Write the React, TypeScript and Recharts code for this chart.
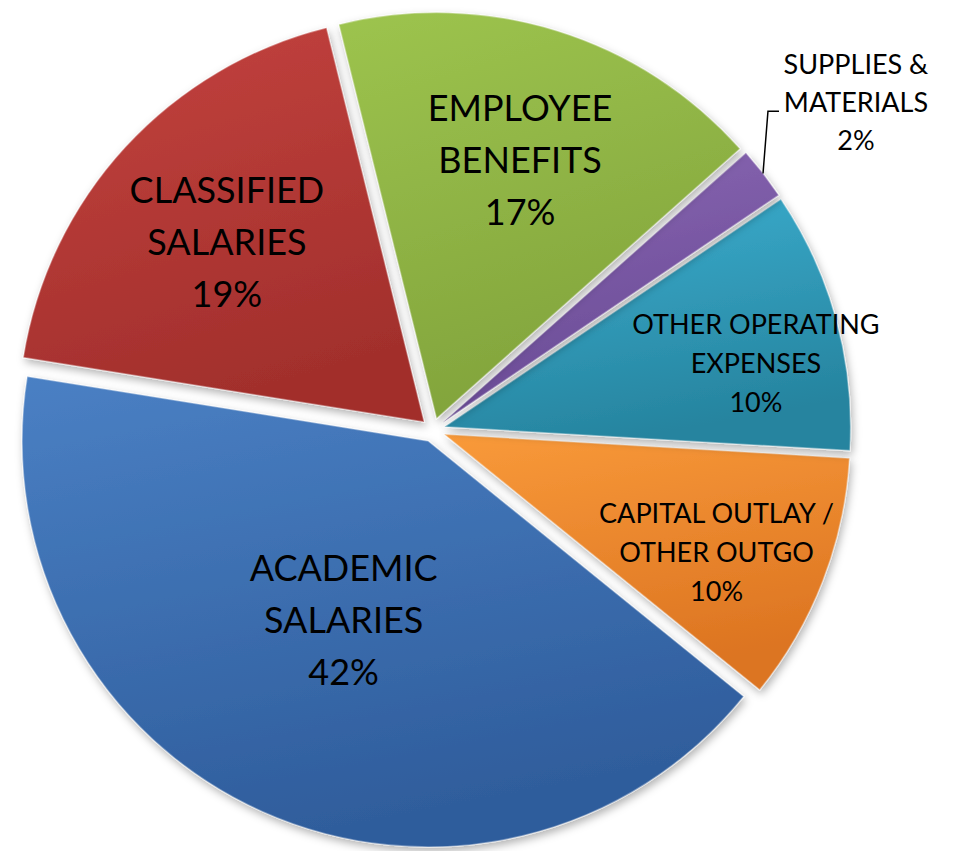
import React from "react";
import { PieChart, Pie, Cell } from "recharts";

// slices listed counter-clockwise, starting at the orange/blue boundary
const categories = [
  "CAPITAL OUTLAY /\nOTHER OUTGO",
  "OTHER OPERATING\nEXPENSES",
  "SUPPLIES &\nMATERIALS",
  "EMPLOYEE\nBENEFITS",
  "CLASSIFIED\nSALARIES",
  "ACADEMIC\nSALARIES",
];
const shares = [9.9, 10.4, 2.1, 17.3, 18.6, 41.7];

const topColors = ["#f99a3a", "#3cafd0", "#8b67b4", "#9dc44e", "#c4433f", "#4a80c4"];
const bottomColors = ["#dc7421", "#26849f", "#684a94", "#82a43c", "#a22f2c", "#2f5d9c"];

const data = categories.map((name, i) => ({ name, value: shares[i] }));

const W = 953;
const H = 851;
const CX = 433;
const CY = 430;
const R = 406;
const EXPLODE = 12;
const START = -39;
const FONT = "Lato, 'Open Sans', sans-serif";

// label placement: radius factor, nudges, font size, line gap
const labelLayout = [
  { r: 0.73, dx: -4, dy: 10, size: 27, gap: 39 },
  { r: 0.78, dx: 6, dy: 20, size: 27, gap: 39 },
  { r: 1.29, dx: 0, dy: 0, size: 27, gap: 38 },
  { r: 0.67, dx: 3, dy: 0, size: 36, gap: 52 },
  { r: 0.66, dx: 0, dy: 0, size: 36, gap: 52 },
  { r: 0.48, dx: -5, dy: 0, size: 36, gap: 52 },
];

const RAD = Math.PI / 180;
const total = shares.reduce((a, b) => a + b, 0);
const midAngles = shares.map((v, i) => {
  const before = shares.slice(0, i).reduce((a, b) => a + b, 0);
  return START + ((before + v / 2) / total) * 360;
});

function makeLabel(k: number) {
  return (props: any) => {
    if (props.index !== k) return null;
    const { cx, cy, midAngle, outerRadius, percent, name } = props;
    const cfg = labelLayout[k];
    const lx = cx + outerRadius * cfg.r * Math.cos(-midAngle * RAD) + cfg.dx;
    const ly = cy + outerRadius * cfg.r * Math.sin(-midAngle * RAD) + cfg.dy;
    const lines = [...String(name).split("\n"), `${Math.round(percent * 100)}%`];
    const y0 = ly - ((lines.length - 1) / 2) * cfg.gap;
    const outside = cfg.r > 1;
    const ax = cx + outerRadius * Math.cos(-midAngle * RAD);
    const ay = cy + outerRadius * Math.sin(-midAngle * RAD);
    return (
      <g>
        {outside && (
          <polyline
            points={`${ax},${ay} ${lx - 88},${ly + 10} ${lx - 77},${ly + 10}`}
            fill="none"
            stroke="#000"
            strokeWidth={1.5}
          />
        )}
        <text
          textAnchor="middle"
          fontFamily={FONT}
          fontSize={cfg.size}
          fill="#000"
        >
          {lines.map((t, i) => (
            <tspan key={i} x={lx} y={y0 + i * cfg.gap} dominantBaseline="central">
              {t}
            </tspan>
          ))}
        </text>
      </g>
    );
  };
}

export default function App() {
  return (
    <div style={{ position: "absolute", left: 0, top: 0, width: W, height: H, background: "#fff" }}>
      <PieChart width={W} height={H} margin={{ top: 0, right: 0, bottom: 0, left: 0 }}>
        <defs>
          {topColors.map((c, i) => (
            <linearGradient key={i} id={`slice-${i}`} x1="0" y1="0" x2="0.3" y2="1">
              <stop offset="0%" stopColor={c} />
              <stop offset="100%" stopColor={bottomColors[i]} />
            </linearGradient>
          ))}
          <filter id="shadow" x="-10%" y="-10%" width="120%" height="120%">
            <feDropShadow dx="2" dy="4" stdDeviation="4" floodColor="#000" floodOpacity="0.3" />
          </filter>
        </defs>
        {data.map((_, k) => (
          <Pie
            key={k}
            data={data}
            dataKey="value"
            nameKey="name"
            cx={CX + EXPLODE * Math.cos(midAngles[k] * RAD)}
            cy={CY - EXPLODE * Math.sin(midAngles[k] * RAD)}
            outerRadius={R}
            startAngle={START}
            endAngle={START + 360}
            isAnimationActive={false}
            labelLine={false}
            label={makeLabel(k)}
          >
            {data.map((__, i) => (
              <Cell
                key={i}
                fill={i === k ? `url(#slice-${i})` : "none"}
                stroke={i === k ? "rgba(255,255,255,0.35)" : "none"}
                strokeWidth={1.5}
                filter={i === k ? "url(#shadow)" : undefined}
              />
            ))}
          </Pie>
        ))}
      </PieChart>
    </div>
  );
}
